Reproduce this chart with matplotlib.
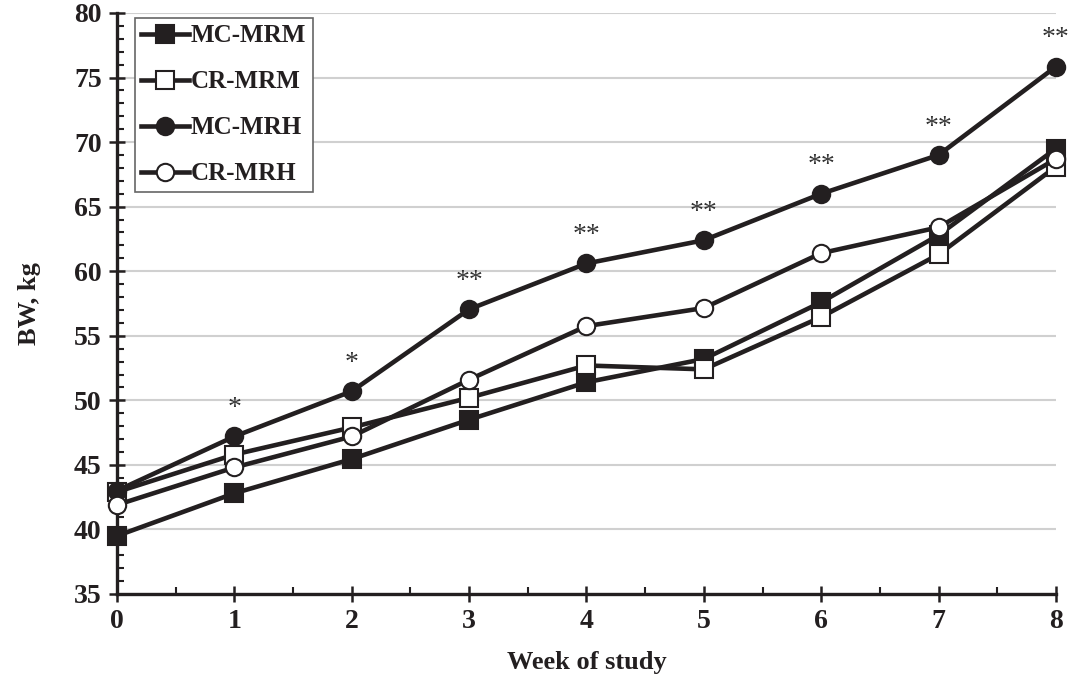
import matplotlib
matplotlib.use("Agg")
import matplotlib.pyplot as plt
from matplotlib.ticker import MultipleLocator

weeks = [0, 1, 2, 3, 4, 5, 6, 7, 8]
mc_mrm = [39.5, 42.8, 45.45, 48.5, 51.4, 53.2, 57.6, 62.8, 69.5]
cr_mrm = [42.9, 45.8, 47.9, 50.2, 52.7, 52.4, 56.45, 61.3, 68.1]
mc_mrh = [43.0, 47.2, 50.7, 57.05, 60.6, 62.4, 66.0, 69.0, 75.85]
cr_mrh = [41.9, 44.8, 47.2, 51.6, 55.75, 57.15, 61.4, 63.4, 68.7]
stars = ["", "*", "*", "**", "**", "**", "**", "**", "**"]

plt.rcParams['font.family'] = ['Liberation Serif', 'DejaVu Serif']
col = "#231f20"

fig = plt.figure(figsize=(10.75, 6.77), dpi=100)
ax = fig.add_axes([0.1088, 0.1226, 0.8735, 0.8582])

style = dict(color=col, lw=3.3, markersize=12.5, markeredgewidth=1.5,
             markeredgecolor=col, clip_on=False, zorder=3)
ax.plot(weeks, mc_mrm, marker="s", markerfacecolor=col, label="MC-MRM", **style)
ax.plot(weeks, cr_mrm, marker="s", markerfacecolor="white", label="CR-MRM", **style)
ax.plot(weeks, mc_mrh, marker="o", markerfacecolor=col, label="MC-MRH", **style)
ax.plot(weeks, cr_mrh, marker="o", markerfacecolor="white", label="CR-MRH", **style)

for w, v, s in zip(weeks, mc_mrh, stars):
    if s:
        ax.annotate(s, (w, v), xytext=(0, 20), textcoords="offset points",
                    ha="center", va="center", fontsize=20, color="#333333",
                    family=["Liberation Serif"])

ax.set_xlim(0, 8)
ax.set_ylim(35, 80)
ax.xaxis.set_major_locator(MultipleLocator(1))
ax.xaxis.set_minor_locator(MultipleLocator(0.5))
ax.yaxis.set_major_locator(MultipleLocator(5))
ax.yaxis.set_minor_locator(MultipleLocator(1))
ax.yaxis.grid(True, color="#d0d0d0", lw=1.5)
ax.set_axisbelow(True)

for sp in ["top", "right"]:
    ax.spines[sp].set_visible(False)
for sp in ["left", "bottom"]:
    ax.spines[sp].set_linewidth(2.4)
    ax.spines[sp].set_color(col)

ax.tick_params(which="major", direction="inout", length=12, width=1.8, color=col,
               labelsize=20, pad=5)
ax.tick_params(which="minor", direction="in", length=5, width=1.5, color=col)
for lbl in ax.get_xticklabels() + ax.get_yticklabels():
    lbl.set_fontweight("bold")
    lbl.set_color(col)

ax.set_xlabel("Week of study", fontsize=19, fontweight="bold", color=col, labelpad=12)
ax.set_ylabel("BW, kg", fontsize=19, fontweight="bold", color=col, labelpad=24)

leg = ax.legend(loc="upper left", bbox_to_anchor=(0.019, 0.991), fancybox=False,
                framealpha=1, edgecolor="#666666", handlelength=1.9,
                handletextpad=0.1, labelspacing=0.92, borderpad=0.25,
                borderaxespad=0.0, prop={"size": 18, "weight": "bold"})
leg.get_frame().set_linewidth(1.2)
for t in leg.get_texts():
    t.set_color(col)

fig.savefig("out.png", dpi=100)
